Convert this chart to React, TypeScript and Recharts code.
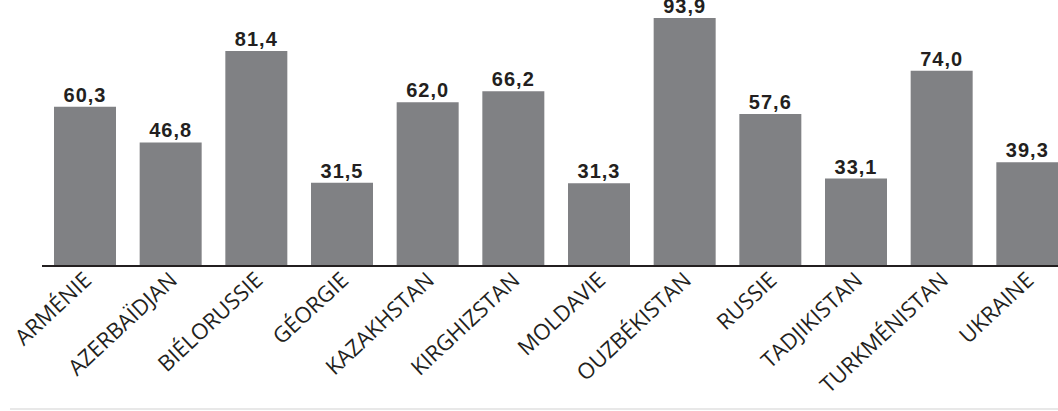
import { BarChart, Bar, XAxis, YAxis, LabelList } from "recharts";

const countries = [
  "ARMÉNIE",
  "AZERBAÏDJAN",
  "BIÉLORUSSIE",
  "GÉORGIE",
  "KAZAKHSTAN",
  "KIRGHIZSTAN",
  "MOLDAVIE",
  "OUZBÉKISTAN",
  "RUSSIE",
  "TADJIKISTAN",
  "TURKMÉNISTAN",
  "UKRAINE",
];

const values = [60.3, 46.8, 81.4, 31.5, 62.0, 66.2, 31.3, 93.9, 57.6, 33.1, 74.0, 39.3];

const data = countries.map((name, i) => ({ name, value: values[i] }));

const fmt = (v: any) => Number(v).toFixed(1).replace(".", ",");

function CountryTick(props: any) {
  const { x, y, payload } = props;
  return (
    <g transform={`translate(${x + 8},${y + 8})`}>
      <text
        transform="rotate(-43)"
        textAnchor="end"
        fontFamily="'Open Sans', sans-serif"
        fontSize={22}
        fill="#231f20"
      >
        {payload.value}
      </text>
    </g>
  );
}

export default function App() {
  return (
    <div
      style={{
        position: "absolute",
        left: 0,
        top: 0,
        width: 1058,
        height: 411,
        overflow: "hidden",
        background: "#fff",
      }}
    >
      <BarChart
        width={1080}
        height={411}
        data={data}
        margin={{ top: 2, right: 10, bottom: 0, left: 42 }}
      >
        <XAxis
          dataKey="name"
          height={145}
          interval={0}
          tickLine={false}
          axisLine={{ stroke: "#231f20", strokeWidth: 2 }}
          tick={<CountryTick />}
        />
        <YAxis hide domain={[0, 100]} />
        <Bar dataKey="value" fill="#808184" barSize={62} isAnimationActive={false}>
          <LabelList
            dataKey="value"
            position="top"
            formatter={fmt}
            style={{
              fontFamily: "'Liberation Sans', Arial, sans-serif",
              fontWeight: 700,
              fontSize: 20,
              letterSpacing: 1,
              fill: "#231f20",
            }}
          />
        </Bar>
      </BarChart>
      <div
        style={{
          position: "absolute",
          left: 10,
          right: 0,
          top: 408,
          height: 2,
          background: "#e8e8e8",
        }}
      />
    </div>
  );
}
